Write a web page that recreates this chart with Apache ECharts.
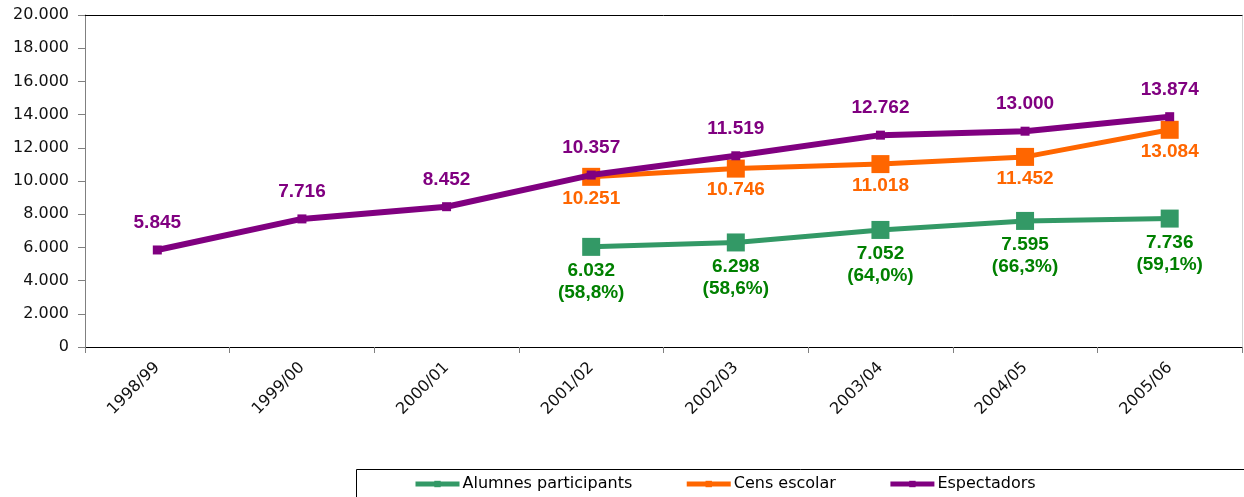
<!DOCTYPE html>
<html>
<head>
<meta charset="utf-8">
<script src="https://cdn.jsdelivr.net/npm/echarts@6/dist/echarts.min.js"></script>
<style>
  html, body { margin: 0; padding: 0; background: #fff; }
  #chart { width: 1244px; height: 497px; }
</style>
</head>
<body>
<div id="chart"></div>
<script>
// Cursos
const categories = ['1998/99', '1999/00', '2000/01', '2001/02', '2002/03', '2003/04', '2004/05', '2005/06'];
// Alumnes participants i percentatge sobre el cens escolar
const alumnes = [null, null, null, 6032, 6298, 7052, 7595, 7736];
const alumnesPct = [null, null, null, '58,8%', '58,6%', '64,0%', '66,3%', '59,1%'];
// Cens escolar
const cens = [null, null, null, 10251, 10746, 11018, 11452, 13084];
// Espectadors
const espectadors = [5845, 7716, 8452, 10357, 11519, 12762, 13000, 13874];
// Eix vertical
const yMin = 0, yMax = 20000, yStep = 2000;

const fmt = v => String(v).replace(/\B(?=(\d{3})+(?!\d))/g, '.');

const labelFont = { fontFamily: '"Liberation Sans", Arial, sans-serif', fontWeight: 'bold', fontSize: 19 };

const chart = echarts.init(document.getElementById('chart'), null, { renderer: 'canvas' });
chart.setOption({
  animation: false,
  backgroundColor: '#fff',
  grid: { left: 85, right: 2, top: 15, bottom: 150, containLabel: false },
  legend: {
    left: 408, top: 471,
    itemWidth: 44, itemHeight: 8, itemGap: 52,
    lineStyle: { width: 5 },
    textStyle: { fontFamily: '"DejaVu Sans", Verdana, sans-serif', fontSize: 16, color: '#000', padding: [0, 0, 0, -2] },
    data: ['Alumnes participants', 'Cens escolar', 'Espectadors']
  },
  graphic: [{
    type: 'rect', left: 354, top: 467, silent: true,
    shape: { width: 1000, height: 100 },
    style: { fill: 'none', stroke: '#000', lineWidth: 1 }
  }],
  xAxis: [{
    type: 'category', data: categories, boundaryGap: true,
    axisLine: { lineStyle: { color: '#000', width: 1 } },
    axisTick: { show: true, interval: 0, length: 6, lineStyle: { color: '#808080' } },
    axisLabel: {
      interval: 0, rotate: 45, margin: 18,
      fontFamily: '"DejaVu Sans", Verdana, sans-serif', fontSize: 16, color: '#111'
    },
    splitLine: { show: false }
  }, {
    type: 'category', data: categories, position: 'top', boundaryGap: true,
    axisLine: { onZero: false, lineStyle: { color: '#000', width: 1 } },
    axisTick: { show: false }, axisLabel: { show: false }, splitLine: { show: false }
  }],
  yAxis: [{
    type: 'value', min: yMin, max: yMax, interval: yStep,
    axisLine: { show: true, onZero: false, lineStyle: { color: '#808080', width: 1 } },
    axisTick: { show: true, length: 7, lineStyle: { color: '#808080' } },
    axisLabel: {
      margin: 16, formatter: v => fmt(v),
      fontFamily: '"DejaVu Sans", Verdana, sans-serif', fontSize: 16, color: '#111'
    },
    splitLine: { show: false }
  }, {
    type: 'value', min: yMin, max: yMax, interval: yStep, position: 'right',
    axisLine: { show: true, onZero: false, lineStyle: { color: '#d4d4d4', width: 1 } },
    axisTick: { show: false }, axisLabel: { show: false }, splitLine: { show: false }
  }],
  series: [{
    name: 'Alumnes participants', type: 'line', data: alumnes,
    symbol: 'rect', symbolSize: 18, showAllSymbol: true,
    itemStyle: { color: '#339966' },
    lineStyle: { color: '#339966', width: 5 },
    label: {
      show: true, position: 'bottom', distance: 4, align: 'center',
      ...labelFont, color: '#008000', lineHeight: 22,
      formatter: p => fmt(p.value) + '\n(' + alumnesPct[p.dataIndex] + ')'
    },
    z: 2
  }, {
    name: 'Cens escolar', type: 'line', data: cens,
    symbol: 'rect', symbolSize: 18, showAllSymbol: true,
    itemStyle: { color: '#FF6600' },
    lineStyle: { color: '#FF6600', width: 5 },
    label: {
      show: true, position: 'bottom', distance: 3,
      ...labelFont, color: '#FF6600',
      formatter: p => fmt(p.value)
    },
    z: 3
  }, {
    name: 'Espectadors', type: 'line', data: espectadors,
    symbol: 'rect', symbolSize: 9, showAllSymbol: true,
    itemStyle: { color: '#800080' },
    lineStyle: { color: '#800080', width: 6 },
    label: {
      show: true, position: 'top', distance: 13,
      ...labelFont, color: '#800080',
      formatter: p => fmt(p.value)
    },
    z: 4
  }]
});
</script>
</body>
</html>
